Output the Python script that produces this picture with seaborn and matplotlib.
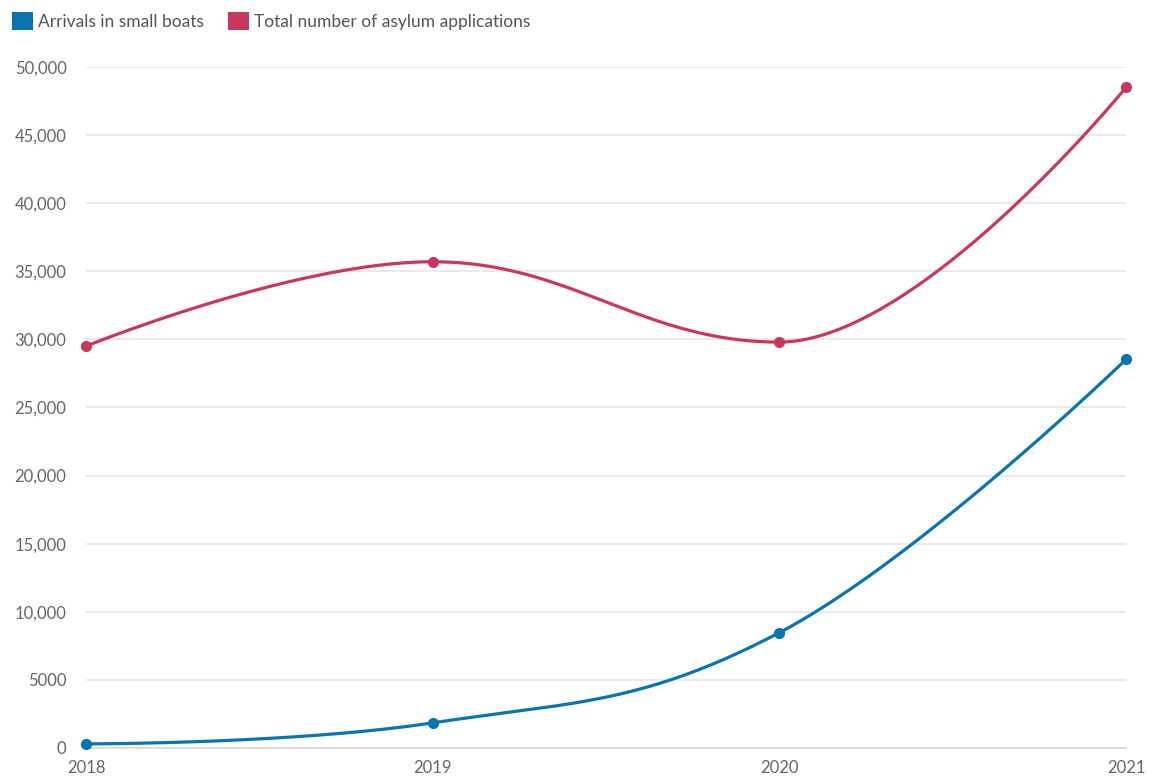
import numpy as np
import matplotlib
matplotlib.use("Agg")
import matplotlib.pyplot as plt
import matplotlib.patches as mpatches
from matplotlib.ticker import FuncFormatter
import seaborn as sns

# data
years = [2018, 2019, 2020, 2021]
small_boats = [299, 1843, 8466, 28526]
asylum_apps = [29500, 35700, 29800, 48500]

series_names = ["Arrivals in small boats", "Total number of asylum applications"]
colors = ["#0a74ae", "#c8385d"]
y_ticks = [0, 5000, 10000, 15000, 20000, 25000, 30000, 35000, 40000, 45000, 50000]


def spline_curve(x, y, n=80, smoothing=1.5):
    # bezier spline like the original chart tool draws it (control points only, for the drawn line)
    x = np.asarray(x, float)
    y = np.asarray(y, float)
    k = len(x)
    denom = smoothing + 1
    lcx, lcy = x.copy(), y.copy()
    rcx, rcy = x.copy(), y.copy()
    for i in range(1, k - 1):
        px, py = x[i], y[i]
        lx, ly, nx, ny = x[i - 1], y[i - 1], x[i + 1], y[i + 1]
        lcx[i] = (smoothing * px + lx) / denom
        l_y = (smoothing * py + ly) / denom
        rcx[i] = (smoothing * px + nx) / denom
        r_y = (smoothing * py + ny) / denom
        corr = (r_y - l_y) * (rcx[i] - px) / (rcx[i] - lcx[i]) + py - r_y
        l_y += corr
        r_y += corr
        if l_y > ly and l_y > py:
            l_y = max(ly, py); r_y = 2 * py - l_y
        elif l_y < ly and l_y < py:
            l_y = min(ly, py); r_y = 2 * py - l_y
        if r_y > ny and r_y > py:
            r_y = max(ny, py); l_y = 2 * py - r_y
        elif r_y < ny and r_y < py:
            r_y = min(ny, py); l_y = 2 * py - r_y
        lcy[i], rcy[i] = l_y, r_y
    xs, ys = [], []
    t = np.linspace(0, 1, n)
    for i in range(k - 1):
        p0 = (x[i], y[i]); p1 = (rcx[i], rcy[i]); p2 = (lcx[i + 1], lcy[i + 1]); p3 = (x[i + 1], y[i + 1])
        b = [(1 - t) ** 3, 3 * (1 - t) ** 2 * t, 3 * (1 - t) * t ** 2, t ** 3]
        xs.append(b[0] * p0[0] + b[1] * p1[0] + b[2] * p2[0] + b[3] * p3[0])
        ys.append(b[0] * p0[1] + b[1] * p1[1] + b[2] * p2[1] + b[3] * p3[1])
    return np.concatenate(xs), np.concatenate(ys)


sns.set_style("white")
plt.rcParams["font.family"] = ["Lato", "DejaVu Sans"]

fig = plt.figure(figsize=(11.49, 7.78), dpi=100)
ax = fig.add_axes([0.0748, 0.0386, 0.9052, 0.8753])

for vals, col in zip([small_boats, asylum_apps], colors):
    cx, cy = spline_curve(years, vals)
    sns.lineplot(x=cx, y=cy, ax=ax, color=col, linewidth=2.3, sort=False)
    sns.scatterplot(x=years, y=vals, ax=ax, color=col, s=65, edgecolor=col, linewidth=0, zorder=5, clip_on=False)

ax.set_xlim(years[0], years[-1])
ax.set_ylim(0, 50000)
ax.set_yticks(y_ticks)
ax.set_xticks(years)
ax.yaxis.set_major_formatter(FuncFormatter(lambda v, p: f"{int(v)}" if v < 10000 else f"{int(v):,}"))
ax.grid(axis="y", color="#e6e6e6", linewidth=1.2)
ax.set_axisbelow(True)
for s in ["top", "right", "left"]:
    ax.spines[s].set_visible(False)
ax.spines["bottom"].set_color("#d8d8d8")
ax.spines["bottom"].set_linewidth(1.2)
ax.tick_params(axis="both", length=0, labelsize=12, labelcolor="#666666")
ax.tick_params(axis="y", pad=14)
ax.tick_params(axis="x", pad=9)

handles = [mpatches.Patch(facecolor=c, edgecolor="none", label=n) for n, c in zip(series_names, colors)]
fig.legend(handles=handles, loc="upper left", bbox_to_anchor=(0.0, 1.0), ncol=2, frameon=False,
           fontsize=12.5, labelcolor="#555555", handlelength=1.2, handleheight=1.2,
           handletextpad=0.3, columnspacing=1.4, borderaxespad=0.3)

fig.savefig("out.png", dpi=100)
